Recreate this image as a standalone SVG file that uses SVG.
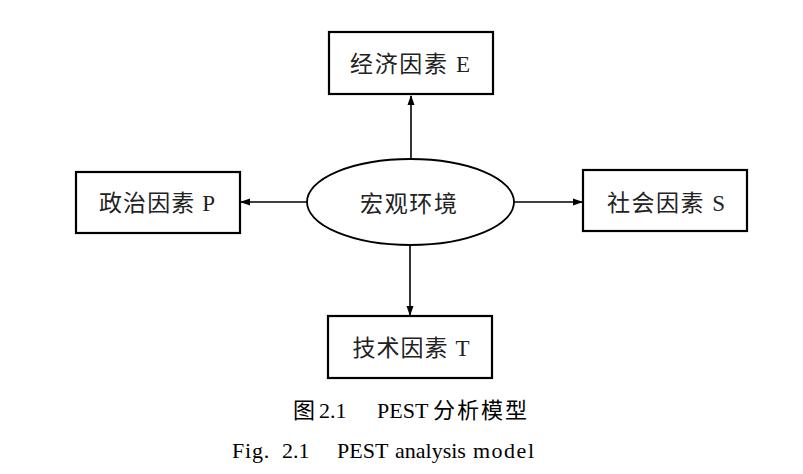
<svg xmlns="http://www.w3.org/2000/svg" width="803" height="474" viewBox="0 0 803 474">
<style>
.box{fill:#fff;stroke:#000;stroke-width:2.2}
.ell{fill:#fff;stroke:#000;stroke-width:1.8}
.lbl{font-family:"Liberation Serif","Noto Sans CJK SC",serif;font-size:23px;fill:#222;text-anchor:middle}
.cap{font-family:"Liberation Serif","Noto Sans CJK SC",serif;font-size:22px;fill:#000}
.con{stroke:#000;stroke-width:1.6;fill:none}
</style>
<defs>
<marker id="arr" markerUnits="userSpaceOnUse" markerWidth="10" markerHeight="10" viewBox="0 0 10 10" refX="9" refY="5" orient="auto">
<path d="M0,1.5 L10,5 L0,8.5 Z" fill="#000"/>
</marker>
</defs>
<rect width="803" height="474" fill="#fff"/>
<g id="connectors">
<line class="con" x1="411" y1="159" x2="411" y2="96" marker-end="url(#arr)"/>
<line class="con" x1="307" y1="202" x2="241" y2="202" marker-end="url(#arr)"/>
<line class="con" x1="514" y1="202" x2="582" y2="202" marker-end="url(#arr)"/>
<line class="con" x1="410" y1="245" x2="410" y2="315" marker-end="url(#arr)"/>
</g>
<g id="node-E">
<rect class="box" x="329" y="32" width="164" height="62"/>
<text class="lbl" x="410" y="72" textLength="120" lengthAdjust="spacing">经济因素 E</text>
</g>
<g id="node-P">
<rect class="box" x="76" y="172" width="164" height="61"/>
<text class="lbl" x="157" y="211" textLength="116" lengthAdjust="spacing">政治因素 P</text>
</g>
<g id="node-center">
<ellipse class="ell" cx="410.5" cy="202" rx="103.5" ry="43"/>
<text class="lbl" x="408.5" y="212" textLength="97" lengthAdjust="spacing">宏观环境</text>
</g>
<g id="node-S">
<rect class="box" x="583" y="170" width="164" height="61"/>
<text class="lbl" x="666" y="211" textLength="118" lengthAdjust="spacing">社会因素 S</text>
</g>
<g id="node-T">
<rect class="box" x="328" y="316" width="164" height="62"/>
<text class="lbl" x="411" y="356" textLength="117" lengthAdjust="spacing">技术因素 T</text>
</g>
<g id="captions">
<text class="cap" y="418"><tspan x="293">图</tspan> <tspan x="319">2.1</tspan> <tspan x="377">PEST</tspan> <tspan x="433" letter-spacing="2">分析模型</tspan></text>
<text class="cap" y="458"><tspan x="232" letter-spacing="0.8">Fig.</tspan> <tspan x="282">2.1</tspan> <tspan x="337">PEST</tspan> <tspan x="395">analysis</tspan> <tspan x="473" letter-spacing="1.5">model</tspan></text>
</g>
</svg>
